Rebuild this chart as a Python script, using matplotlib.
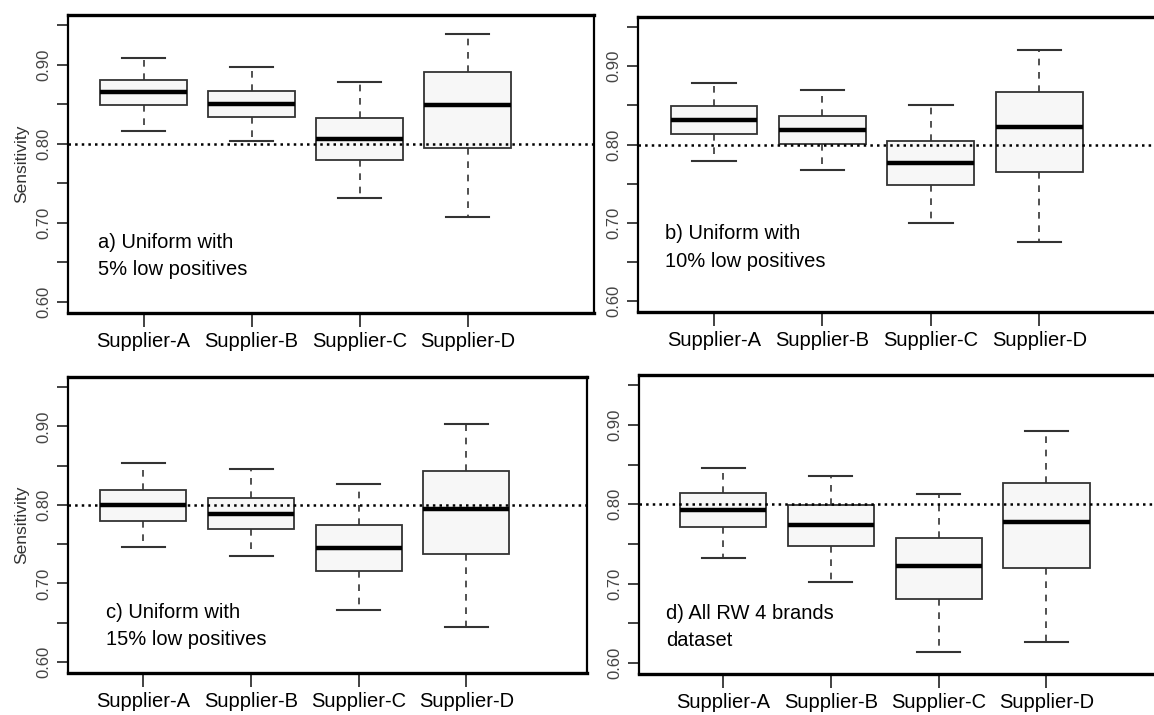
import matplotlib
matplotlib.use('Agg')
import matplotlib.pyplot as plt

plt.rcParams['font.family'] = ['Liberation Sans', 'DejaVu Sans']

# suppliers on the x axis
suppliers = ['Supplier-A', 'Supplier-B', 'Supplier-C', 'Supplier-D']

# five-number summaries: low whisker, Q1, median, Q3, high whisker
panel_a_low = [0.816, 0.803, 0.732, 0.708]
panel_a_q1 = [0.849, 0.834, 0.780, 0.795]
panel_a_med = [0.865, 0.850, 0.806, 0.849]
panel_a_q3 = [0.881, 0.867, 0.833, 0.891]
panel_a_high = [0.908, 0.897, 0.878, 0.939]

panel_b_low = [0.779, 0.768, 0.700, 0.676]
panel_b_q1 = [0.814, 0.801, 0.748, 0.765]
panel_b_med = [0.831, 0.819, 0.776, 0.823]
panel_b_q3 = [0.849, 0.837, 0.804, 0.867]
panel_b_high = [0.879, 0.870, 0.851, 0.921]

panel_c_low = [0.747, 0.735, 0.666, 0.645]
panel_c_q1 = [0.780, 0.769, 0.716, 0.737]
panel_c_med = [0.800, 0.789, 0.745, 0.795]
panel_c_q3 = [0.819, 0.809, 0.774, 0.843]
panel_c_high = [0.853, 0.846, 0.827, 0.903]

panel_d_low = [0.732, 0.702, 0.614, 0.626]
panel_d_q1 = [0.771, 0.747, 0.681, 0.720]
panel_d_med = [0.793, 0.774, 0.722, 0.778]
panel_d_q3 = [0.814, 0.799, 0.757, 0.827]
panel_d_high = [0.846, 0.836, 0.813, 0.892]

panel_titles = ['a) Uniform with\n5% low positives',
                'b) Uniform with\n10% low positives',
                'c) Uniform with\n15% low positives',
                'd) All RW 4 brands\ndataset']

reference_line = 0.80

panels = [
    (panel_a_low, panel_a_q1, panel_a_med, panel_a_q3, panel_a_high),
    (panel_b_low, panel_b_q1, panel_b_med, panel_b_q3, panel_b_high),
    (panel_c_low, panel_c_q1, panel_c_med, panel_c_q3, panel_c_high),
    (panel_d_low, panel_d_q1, panel_d_med, panel_d_q3, panel_d_high),
]

# layout in pixels: left, top, right, bottom ; x limits ; text position (axes fraction)
W, H = 1154, 715
layout = [
    ((68, 15, 594, 313), (0.30, 5.17), (0.057, 0.27), True),
    ((638, 17, 1164, 312), (0.30, 5.15), (0.051, 0.297), False),
    ((68, 377, 587, 673), (0.30, 5.12), (0.074, 0.236), True),
    ((639, 375, 1165, 674), (0.22, 5.10), (0.051, 0.235), False),
]

fig = plt.figure(figsize=(W / 100, H / 100), dpi=100)

for (low, q1, med, q3, high), title, (rect, xlim, tpos, ylab) in zip(panels, panel_titles, layout):
    l, t, r, b = rect
    ax = fig.add_axes([l / W, 1 - b / H, (r - l) / W, (b - t) / H])

    stats = []
    for i in range(len(suppliers)):
        stats.append({'whislo': low[i], 'q1': q1[i], 'med': med[i],
                      'q3': q3[i], 'whishi': high[i], 'fliers': []})

    ax.bxp(stats, positions=[1, 2, 3, 4], widths=0.8, patch_artist=True,
           showfliers=False, capwidths=0.4,
           boxprops=dict(facecolor='#f7f7f7', edgecolor='#333333', linewidth=1.3),
           medianprops=dict(color='black', linewidth=3.2),
           whiskerprops=dict(color='#333333', linewidth=1.2, linestyle=(0, (4, 4))),
           capprops=dict(color='#333333', linewidth=1.5))

    ax.axhline(reference_line, color='black', linestyle=':', linewidth=1.8, zorder=5)

    ax.set_xlim(*xlim)
    ax.set_ylim(0.586, 0.963)
    ax.set_xticks([1, 2, 3, 4])
    ax.set_xticklabels(suppliers, fontsize=14.5)
    ax.set_yticks([0.60, 0.70, 0.80, 0.90])
    ax.set_yticklabels(['0.60', '0.70', '0.80', '0.90'], fontsize=12, color='#444444',
                       rotation=90, va='center')
    ax.set_yticks([0.65, 0.75, 0.85, 0.95], minor=True)
    ax.tick_params(axis='y', which='both', direction='out', length=8, width=1.3,
                   color='#333333', pad=4)
    ax.tick_params(axis='x', direction='out', length=10, width=1.3, color='#333333', pad=4)

    for side in ['top', 'bottom']:
        ax.spines[side].set_linewidth(2.4)
    for side in ['left', 'right']:
        ax.spines[side].set_linewidth(1.6)

    ax.text(tpos[0], tpos[1], title, transform=ax.transAxes, fontsize=14.5,
            va='top', ha='left', linespacing=1.55)

    if ylab:
        ax.set_ylabel('Sensitivity', fontsize=12.5, color='#333333', labelpad=5)

fig.savefig('out.png', dpi=100)
